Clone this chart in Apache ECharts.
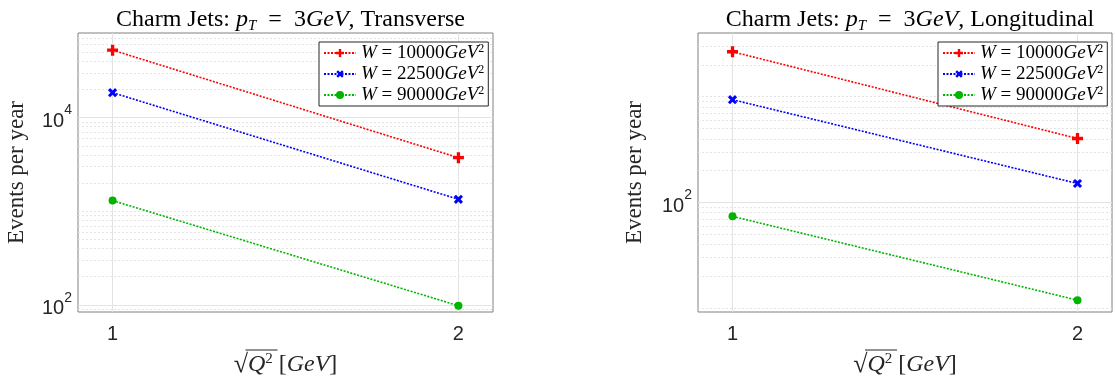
<!DOCTYPE html>
<html>
<head>
<meta charset="utf-8">
<script src="https://cdn.jsdelivr.net/npm/echarts@6/dist/echarts.min.js"></script>
<style>
  html, body { margin: 0; padding: 0; background: #fff; }
  #chart { width: 1116px; height: 383px; }
</style>
</head>
<body>
<div id="chart"></div>
<script>
// data
const sqrtQ2 = [1, 2]
const seriesNames = ['W10000', 'W22500', 'W90000']
const transW10000 = [52500, 3730]
const transW22500 = [18450, 1342]
const transW90000 = [1300, 98]
const longW10000 = [2660, 402]
const longW22500 = [937, 151]
const longW90000 = [73.8, 11.9]
const xTickLabels = [1, 2]
const transMajorY = [100, 10000]
const longMajorY = [100]

const SERIF = '"Liberation Serif", "DejaVu Serif", serif'
const SANS = '"Liberation Sans", Arial, sans-serif'
const colors = ['#ff0000', '#0000ff', '#00b400']
const plusPath = 'path://M3.5,0H6.5V3.5H10V6.5H6.5V10H3.5V6.5H0V3.5H3.5Z'
const markers = [
  { symbol: plusPath, symbolSize: 11, symbolRotate: 0 },
  { symbol: plusPath, symbolSize: 10, symbolRotate: 45 },
  { symbol: 'circle', symbolSize: 8, symbolRotate: 0 }
]
const legendText = {
  W10000: '{i|W} = 10000{i|GeV}{s|2}',
  W22500: '{i|W} = 22500{i|GeV}{s|2}',
  W90000: '{i|W} = 90000{i|GeV}{s|2}'
}

// minor grid lines at 2..9 x 10^k (plus odd decades, which carry no label)
function minorLines(min, max, majors) {
  const out = []
  for (let e = -1; e <= 6; e++) {
    for (let m = 1; m <= 9; m++) {
      const v = m * Math.pow(10, e)
      if (v > min && v < max && !majors.includes(v)) out.push(v)
    }
  }
  return out
}

const grids = [
  { left: 78, top: 33, width: 415, height: 279 },
  { left: 698, top: 33, width: 414, height: 279 }
]
const yRanges = [[84, 80000], [9.2, 4000]]
const panels = [
  { title: 'Transverse', data: [transW10000, transW22500, transW90000], majors: transMajorY },
  { title: 'Longitudinal', data: [longW10000, longW22500, longW90000], majors: longMajorY }
]

const isPow = v => Math.abs(Math.log10(v) - Math.round(Math.log10(v))) < 1e-6

const xAxis = grids.map((g, i) => ({
  type: 'value', gridIndex: i, min: 0.9, max: 2.1, interval: 0.1,
  axisLine: { show: false }, axisTick: { show: false }, splitLine: { show: false },
  axisLabel: {
    margin: 12, fontFamily: SANS, fontSize: 20, color: '#262626',
    formatter: v => (xTickLabels.some(t => Math.abs(t - v) < 1e-6) ? String(Math.round(v)) : '')
  },
  name: '{r|√}{i|Q}{s|2} [{i|GeV}]', nameLocation: 'middle', nameGap: 40,
  nameTextStyle: {
    fontFamily: SERIF, fontSize: 24, color: '#262626',
    rich: {
      r: { fontFamily: SERIF, fontSize: 26 },
      i: { fontFamily: SERIF, fontSize: 24, fontStyle: 'italic' },
      s: { fontFamily: SERIF, fontSize: 15, verticalAlign: 'top', lineHeight: 26 }
    }
  }
}))

const yAxis = grids.map((g, i) => ({
  type: 'log', logBase: 10, gridIndex: i, min: yRanges[i][0], max: yRanges[i][1],
  axisLine: { show: false }, axisTick: { show: false }, splitLine: { show: false },
  axisLabel: {
    margin: 6,
    formatter: v => {
      if (!isPow(v)) return ''
      const e = Math.round(Math.log10(v))
      return panels[i].majors.includes(Math.pow(10, e)) ? '{b|10}{s|' + e + '}' : ''
    },
    rich: {
      b: { fontFamily: SANS, fontSize: 20, color: '#262626', lineHeight: 28, verticalAlign: 'bottom' },
      s: { fontFamily: SANS, fontSize: 14, color: '#262626', lineHeight: 28, verticalAlign: 'top' }
    }
  },
  name: 'Events per year', nameLocation: 'middle', nameGap: i === 0 ? 50 : 52,
  nameTextStyle: { fontFamily: SERIF, fontSize: 23, color: '#262626' }
}))

const series = []
panels.forEach((p, gi) => {
  // grid lines drawn through the axes
  series.push({
    type: 'line', xAxisIndex: gi, yAxisIndex: gi, data: [], silent: true, z: 1,
    markLine: {
      silent: true, symbol: 'none', label: { show: false }, animation: false, z: 1,
      data: [
        ...xTickLabels.map(x => ({ xAxis: x, lineStyle: { color: '#e3e3e3', type: 'solid', width: 1 } })),
        ...p.majors.map(y => ({ yAxis: y, lineStyle: { color: '#e3e3e3', type: 'solid', width: 1 } })),
        ...minorLines(yRanges[gi][0], yRanges[gi][1], p.majors).map(y => ({
          yAxis: y, lineStyle: { color: '#e4e4e4', type: [2, 2], width: 1 }
        }))
      ]
    }
  })
  p.data.forEach((vals, si) => {
    series.push({
      name: seriesNames[si], type: 'line', xAxisIndex: gi, yAxisIndex: gi, z: 3,
      data: sqrtQ2.map((x, k) => [x, vals[k]]),
      symbol: markers[si].symbol, symbolSize: markers[si].symbolSize, symbolRotate: markers[si].symbolRotate,
      showAllSymbol: true,
      lineStyle: { color: colors[si], width: 1.6, type: [2, 1.5] },
      itemStyle: { color: colors[si] },
      animation: false
    })
  })
})

const titles = panels.map((p, i) => ({
  text: '{n|Charm Jets: }{i|p}{sub|T}{n|  =  3}{i|GeV}{n|, ' + p.title + '}',
  left: grids[i].left + grids[i].width / 2, top: 0, textAlign: 'center',
  textStyle: {
    fontWeight: 'normal',
    rich: {
      n: { fontFamily: SERIF, fontSize: 24, fontWeight: 'normal', color: '#000' },
      i: { fontFamily: SERIF, fontSize: 24, fontWeight: 'normal', fontStyle: 'italic', color: '#000' },
      sub: { fontFamily: SERIF, fontSize: 15, fontWeight: 'normal', fontStyle: 'italic', color: '#000', verticalAlign: 'bottom', lineHeight: 29 }
    }
  }
}))

const legends = grids.map((g, i) => ({
  data: seriesNames, orient: 'vertical',
  left: g.left + g.width - 8 - 166, top: 42, width: 166,
  itemWidth: 32, itemHeight: 10, itemGap: 1, padding: [1, 4, 1, 4],
  backgroundColor: '#fff', borderColor: '#262626', borderWidth: 1, borderRadius: 0,
  selectedMode: false, z: 10,
  formatter: name => legendText[name],
  textStyle: {
    fontFamily: SERIF, fontSize: 19, color: '#000', lineHeight: 20,
    rich: {
      i: { fontFamily: SERIF, fontSize: 19, fontStyle: 'italic', lineHeight: 20 },
      s: { fontFamily: SERIF, fontSize: 12, verticalAlign: 'top', lineHeight: 20 }
    }
  }
}))

// radical bar over Q^2 in the x axis names
const radicalBars = grids.map(g => ({
  type: 'line', silent: true,
  shape: { x1: g.left + g.width / 2 - 40, y1: 350, x2: g.left + g.width / 2 - 8, y2: 350 },
  style: { stroke: '#262626', lineWidth: 1 }
}))

const chart = echarts.init(document.getElementById('chart'))
chart.setOption({
  animation: false,
  title: titles,
  legend: legends,
  grid: grids.map(g => ({ ...g, show: true, borderColor: '#808080', borderWidth: 1, backgroundColor: 'transparent' })),
  xAxis,
  yAxis,
  series,
  graphic: radicalBars
})
</script>
</body>
</html>
